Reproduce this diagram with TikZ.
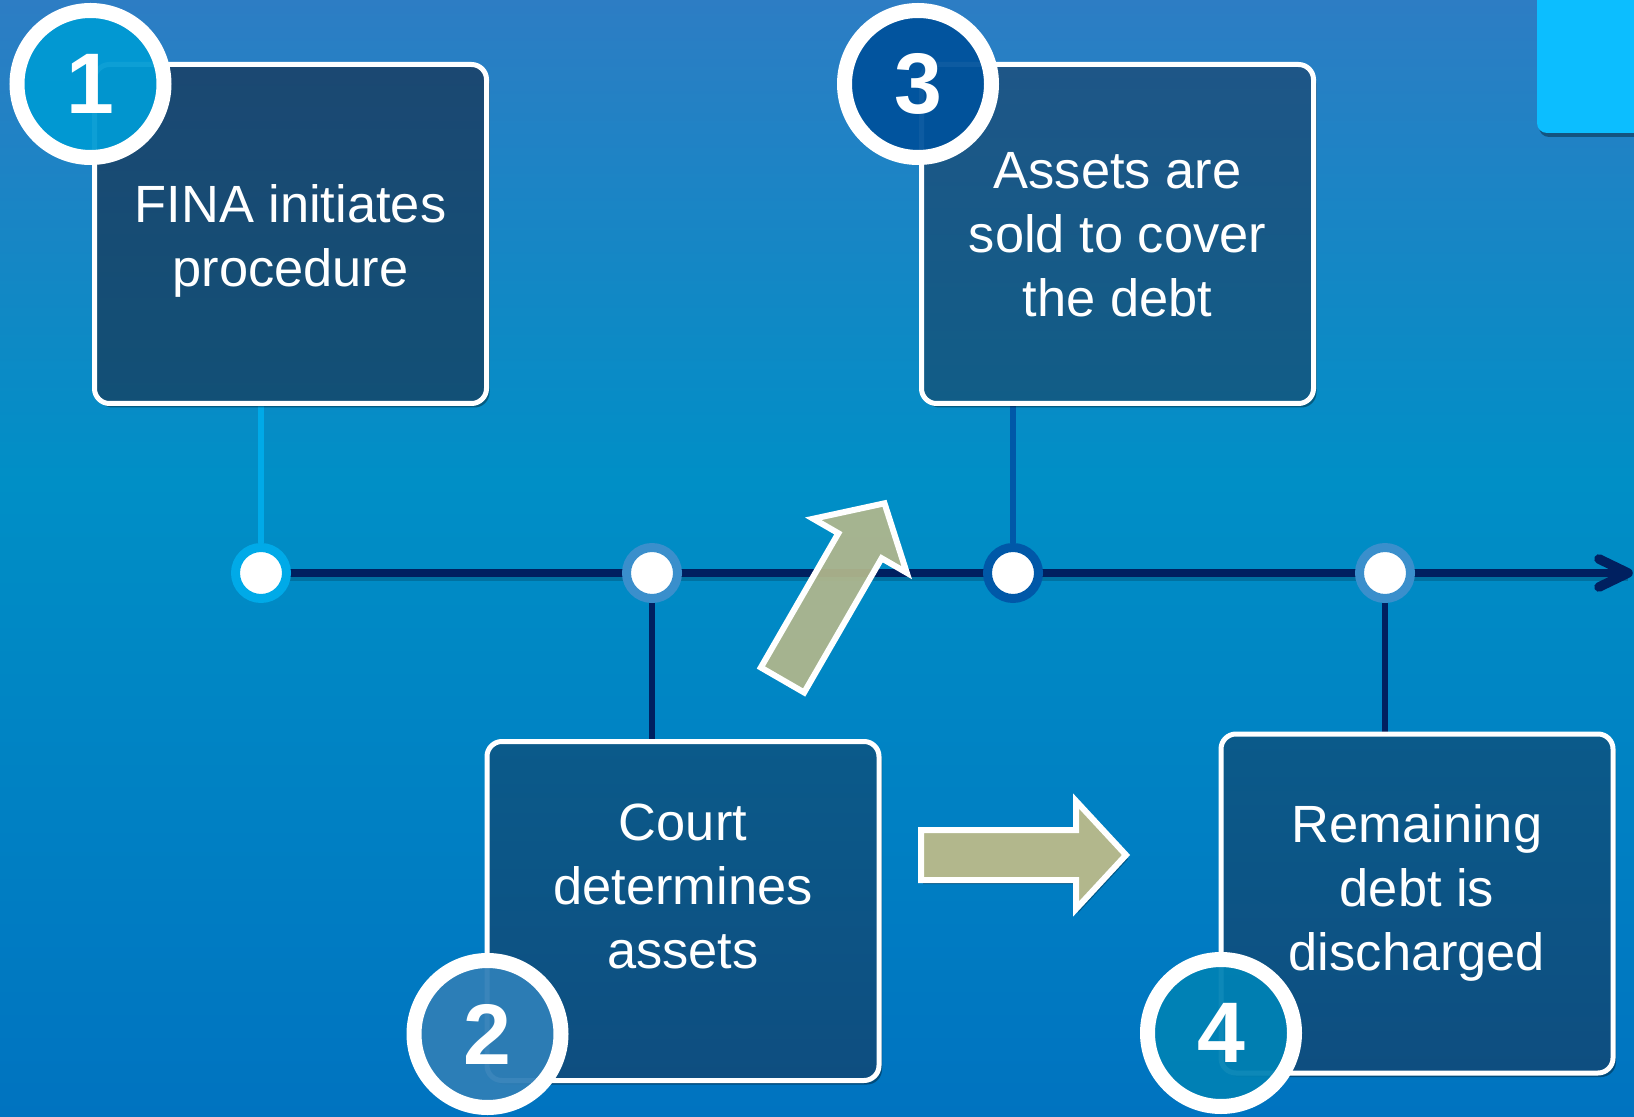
\documentclass[tikz,border=0pt]{standalone}
\usepackage{fontspec}
\setmainfont{Liberation Sans}
\usetikzlibrary{shadows}
\definecolor{bgtop}{RGB}{45,125,196}
\definecolor{bgmid}{RGB}{0,143,198}
\definecolor{bgbot}{RGB}{0,115,192}
\definecolor{navy}{RGB}{0,32,96}
\definecolor{cyanbox}{RGB}{12,190,255}
\definecolor{ringA}{RGB}{0,170,232}
\definecolor{ringB}{RGB}{58,143,204}
\definecolor{ringC}{RGB}{0,88,168}
\definecolor{numA}{RGB}{0,158,217}
\definecolor{numB}{RGB}{48,130,188}
\definecolor{numC}{RGB}{0,84,160}
\definecolor{numD}{RGB}{0,133,185}
\definecolor{arrowc}{RGB}{178,183,140}
\definecolor{boxAt}{RGB}{27,72,114}
\definecolor{boxAb}{RGB}{18,80,118}
\definecolor{boxCt}{RGB}{30,86,135}
\definecolor{boxCb}{RGB}{17,93,135}
\definecolor{boxBt}{RGB}{11,90,138}
\definecolor{boxBb}{RGB}{14,78,128}
\pgfdeclarelayer{bg}
\pgfsetlayers{bg,main}
\begin{document}
\begin{tikzpicture}[x=0.5pt,y=-0.5pt,
  stepbox/.style={rectangle, rounded corners=7.5pt, draw=white, line width=2.5pt,
    minimum width=196pt, minimum height=169.5pt, inner sep=0pt,
    drop shadow={shadow xshift=1.5pt, shadow yshift=-2pt, opacity=0.35, fill=black}},
  numcirc/.style={circle, draw=white, line width=7.5pt, minimum size=73.5pt, inner sep=0pt,
    text=white, fill opacity=0.92, text opacity=1,
    font=\fontsize{43}{43}\selectfont\bfseries,
    drop shadow={shadow xshift=1pt, shadow yshift=-2pt, opacity=0.3, fill=black}},
  tdot/.style={circle, fill=white, line width=4.5pt, minimum size=25.5pt, inner sep=0pt,
    drop shadow={shadow xshift=0.8pt, shadow yshift=-1.5pt, opacity=0.35, fill=black}},
  boxtext/.style={align=center, text=white, font=\fontsize{26.2}{32}\selectfont,
    inner sep=0pt, anchor=north},
  bigarrow/.style={draw=white, line width=3pt, fill=arrowc, line join=miter},
  link/.style={line width=2.6pt},
  timeline/.style={navy, line width=3.75pt}
]
\useasboundingbox (0,0) rectangle (1634,1117);

% coordinates on the timeline
\coordinate (p1) at (261,573);
\coordinate (p2) at (652,573);
\coordinate (p3) at (1013,573);
\coordinate (p4) at (1385,573);
\coordinate (tend) at (1628,573);

% boxes
\node[stepbox, top color=boxAt, bottom color=boxAb] (b1) at (290.5,234) {};
\node[stepbox, top color=boxCt, bottom color=boxCb] (b3) at (1117.5,234) {};
\node[stepbox, top color=boxBt, bottom color=boxBb] (b2) at (683,911) {};
\node[stepbox, top color=boxBt, bottom color=boxBb] (b4) at (1417,903.5) {};

\node[boxtext] (t1) at (290.5,177) {\strut FINA initiates\\procedure};
\node[boxtext] (t3) at (1117.5,143) {\strut Assets are\\sold to cover\\the debt};
\node[boxtext] (t2) at (683,795) {\strut Court\\determines\\assets};
\node[boxtext] (t4) at (1417,797) {\strut Remaining\\debt is\\discharged};

% timeline dots
\node[tdot, draw=ringA] (d1) at (p1) {};
\node[tdot, draw=ringB] (d2) at (p2) {};
\node[tdot, draw=ringC] (d3) at (p3) {};
\node[tdot, draw=ringB] (d4) at (p4) {};

\begin{pgfonlayer}{bg}
  \shade[top color=bgtop, bottom color=bgmid] (0,0) rectangle (1634,481);
  \shade[top color=bgmid, bottom color=bgbot] (0,480) rectangle (1634,1117);
  \fill[cyanbox, rounded corners=5pt,
    drop shadow={shadow xshift=1pt, shadow yshift=-2pt, opacity=0.35, fill=black}]
    (1537,-30) rectangle (1680,133);
  % timeline shadow and line
  \draw[black, opacity=0.18, line width=3.75pt] ([yshift=-2pt]p1) -- ([yshift=-2pt]tend);
  \draw[timeline] (p1) -- (tend);
  \draw[timeline, line width=4.8pt, line cap=round, line join=round]
    ([shift={(-29,-14)}]tend) -- (tend) -- ([shift={(-29,14)}]tend);
  % connectors
  \draw[link, ringA] (d1) -- (d1 |- b1.south);
  \draw[link, navy]  (d2) -- (d2 |- b2.north);
  \draw[link, ringC] (d3) -- (d3 |- b3.south);
  \draw[link, navy]  (d4) -- (d4 |- b4.north);
\end{pgfonlayer}

% arrows
\begin{scope}[shift={(921,855)}]
  \draw[bigarrow, drop shadow={shadow xshift=1pt, shadow yshift=-2pt, opacity=0.3, fill=black}]
    (0,-25) -- (155,-25) -- (155,-54) -- (205,0) -- (155,54) -- (155,25) -- (0,25) -- cycle;
\end{scope}
\begin{scope}[shift={(782.5,680)}, rotate=60]
  \draw[bigarrow, fill opacity=0.93]
    (0,-25) -- (155,-25) -- (155,-54) -- (204,0) -- (155,54) -- (155,25) -- (0,25) -- cycle;
\end{scope}

% number circles
\node[numcirc, fill=numA] (n1) at (90.5,84) {1};
\node[numcirc, fill=numC] (n3) at (918,84) {3};
\node[numcirc, fill=numB] (n2) at (487.5,1034) {2};
\node[numcirc, fill=numD] (n4) at (1221,1033) {4};
\end{tikzpicture}
\end{document}
